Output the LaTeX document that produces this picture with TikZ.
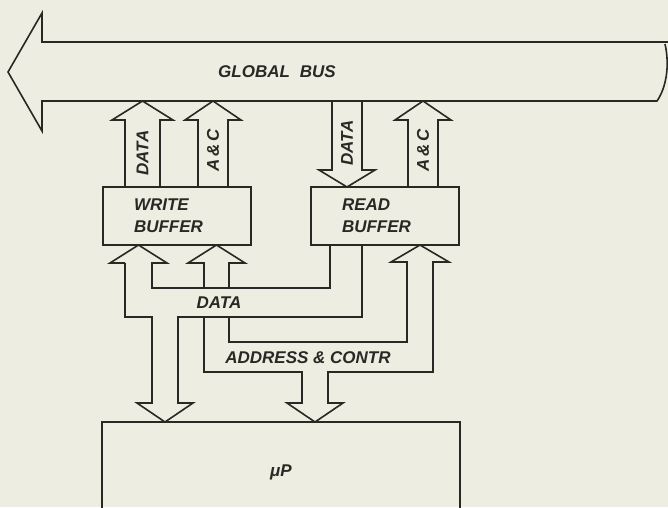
\documentclass[tikz,border=0pt]{standalone}
\usepackage{fontspec}
\setmainfont{Liberation Sans}
\usepackage{xcolor}
\usepackage{tikz}

\definecolor{ink}{RGB}{40,40,36}
\definecolor{paper}{RGB}{238,237,226}

\tikzset{
  wire/.style={line width=1.6pt, line join=miter},
  bufbox/.style={draw, line width=1.6pt, minimum height=58, inner xsep=31, inner ysep=0,
    text width=86, align=left},
  lbl/.style={font=\fontsize{17}{22}\selectfont\bfseries\itshape},
}

\begin{document}
\begin{tikzpicture}[x=1pt, y=-1pt, lbl, color=ink]

\fill[paper] (0,0) rectangle (668,507);
\useasboundingbox (0,0) rectangle (668,507);

% ===================== Global bus =====================
\draw[wire] (668,42) -- (42,42) -- (42,13) -- (8,72) -- (42,131) -- (42,101) -- (657,101)
  .. controls (666,88) and (670,66) .. (665,44);
\node (bus) at (277,72) {GLOBAL\hspace{10pt}BUS};

% ===================== Buffers and processor =====================
\node[bufbox] (wbuf) at (177,216) {WRITE\\BUFFER};
\node[bufbox] (rbuf) at (385,216) {READ\\BUFFER};
\node[draw, line width=1.6pt, minimum width=358, minimum height=100] (mup) at (281,472) {μP};

% ---- arrows between global bus and buffers ----
\foreach \xl/\xr in {125/160, 198/228, 408/438}{
  \draw[wire] (\xl,187) -- (\xl,120) -- (\xl-13,120) -- ({(\xl+\xr)/2},101)
    -- (\xr+13,120) -- (\xr,120) -- (\xr,187);
}
\draw[wire] (332,101) -- (332,170) -- (319,170) -- (347,187) -- (375,170) -- (362,170) -- (362,101);

\node[rotate=90] (wdata) at (142.5,153) {DATA};
\node[rotate=90] (wac)   at (213,150)   {A\,\&\,C};
\node[rotate=90] (rdata) at (347,143)   {DATA};
\node[rotate=90] (rac)   at (423,150)   {A\,\&\,C};

% ===================== Local data bus =====================
\draw[wire] (125,263) -- (125,317) -- (152,317) -- (152,403) -- (137,403) -- (165,422)
  -- (193,403) -- (178,403) -- (178,317) -- (362,317) -- (362,245);
\draw[wire] (125,263) -- (110,263) -- (138.5,245) -- (167,263) -- (152,263)
  -- (152,288) -- (330,288) -- (330,245);
\node (datalbl) at (219,303) {DATA};

% ===================== Local address & control bus =====================
\draw[wire] (204,288) -- (204,263) -- (188,263) -- (216.5,245) -- (245,263) -- (229,263) -- (229,288);
\draw[wire] (204,317) -- (204,372) -- (302,372) -- (302,403) -- (287,403) -- (315,422)
  -- (343,403) -- (328,403) -- (328,372) -- (433,372) -- (433,262) -- (449,262)
  -- (420,245) -- (391,262) -- (407,262) -- (407,342) -- (229,342) -- (229,317);
\node (adclbl) at (308,358) {ADDRESS \& CONTR};

\end{tikzpicture}
\end{document}
